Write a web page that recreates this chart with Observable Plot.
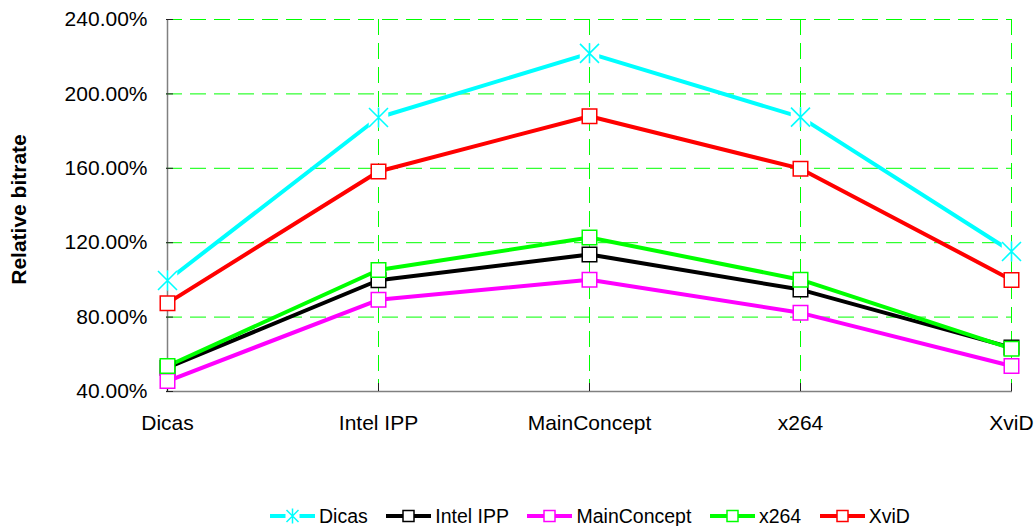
<!DOCTYPE html>
<html>
<head>
<meta charset="utf-8">
<script src="https://cdn.jsdelivr.net/npm/d3@7"></script>
<script src="https://cdn.jsdelivr.net/npm/@observablehq/plot@0.6"></script>
<style>
  html, body { margin: 0; padding: 0; background: #fff; overflow: hidden; }
  body { width: 1036px; height: 526px; font-family: "Liberation Sans", Arial, sans-serif; }
  #legend { display: flex; align-items: center; height: 36px; margin-top: 8px; padding-left: 270px; font-size: 19.5px; color: #000; }
  .item { display: flex; align-items: center; margin-right: 18.5px; }
  .item svg { margin-right: 4px; display: block; }
</style>
</head>
<body>
<div id="chart"></div>
<div id="legend"></div>
<script>
// Categories (x axis)
const encoders = ["Dicas", "Intel IPP", "MainConcept", "x264", "XviD"];
// Series names (legend)
const seriesNames = ["Dicas", "Intel IPP", "MainConcept", "x264", "XviD"];
// Series values (relative bitrate, %)
const dicasValues = [99.7, 187.3, 221.8, 187.5, 115.3];
const intelValues = [52.8, 99.8, 113.7, 94.8, 63.6];
const mainConceptValues = [45.6, 89.3, 100.1, 82.3, 53.7];
const x264Values = [53.7, 105.3, 122.8, 100.1, 63.0];
const xvidValues = [87.5, 158.3, 188.0, 159.8, 100.0];
// Y tick values
const yTicks = [40, 80, 120, 160, 200, 240];
const colors = ["#00ffff", "#000000", "#ff00ff", "#00ff00", "#ff0000"];

const allValues = [dicasValues, intelValues, mainConceptValues, x264Values, xvidValues];
const rows = [];
seriesNames.forEach((s, si) => {
  encoders.forEach((e, i) => rows.push({series: s, encoder: e, value: allValues[si][i]}));
});
const starRows = rows.filter(d => d.series === "Dicas");
const squareRows = rows.filter(d => d.series !== "Dicas");

const asterisk = {
  draw(ctx, size) {
    const h = Math.sqrt(size / Math.PI);
    const k = h * 0.95;
    ctx.moveTo(0, -h); ctx.lineTo(0, h);
    ctx.moveTo(-k, -k); ctx.lineTo(k, k);
    ctx.moveTo(-k, k); ctx.lineTo(k, -k);
  }
};

const grid = "#00ff00";
const chart = Plot.plot({
  width: 1036,
  height: 490,
  marginLeft: 166,
  marginRight: 24,
  marginTop: 19,
  marginBottom: 99,
  style: {fontFamily: "'Liberation Sans', Arial, sans-serif", fontSize: "21px", background: "#fff", color: "#000", overflow: "visible"},
  x: {type: "point", domain: encoders, padding: 0},
  y: {domain: [40, 240]},
  color: {domain: seriesNames, range: colors},
  marks: [
    Plot.gridY(yTicks.slice(1), {stroke: grid, strokeOpacity: 1, strokeWidth: 1, strokeDasharray: "16,8"}),
    Plot.gridX(encoders.slice(1), {stroke: grid, strokeOpacity: 1, strokeWidth: 1, strokeDasharray: "16,8"}),
    Plot.ruleX([encoders[0]], {stroke: "#808080", strokeWidth: 1.5}),
    Plot.ruleY([yTicks[0]], {stroke: "#808080", strokeWidth: 1.5}),
    Plot.axisY({ticks: yTicks, tickFormat: d => d.toFixed(2) + "%", tickSize: -7, tickPadding: 26, stroke: "#222", fill: "#000", fontSize: 21, label: null}),
    Plot.axisX({tickSize: -8, tickPadding: 32, stroke: "#222", fill: "#000", fontSize: 21, label: null}),
    Plot.line(rows, {x: "encoder", y: "value", z: "series", stroke: "series", strokeWidth: 4, curve: "linear"}),
    Plot.dot(starRows, {x: "encoder", y: "value", symbol: "square", r: 11, fill: "#fff", stroke: null}),
    Plot.dot(squareRows, {x: "encoder", y: "value", symbol: "square", r: 8.2, fill: "#fff", stroke: "series", strokeWidth: 1.5}),
    Plot.dot(starRows, {x: "encoder", y: "value", symbol: asterisk, r: 10, fill: null, stroke: "series", strokeWidth: 1.6}),
    Plot.text(["Relative bitrate"], {text: d => d, frameAnchor: "left", textAnchor: "middle", lineAnchor: "middle", dx: -147, dy: 4, rotate: -90, fontWeight: "bold", fontSize: 21, fill: "#000"})
  ]
});
document.getElementById("chart").appendChild(chart);

// Legend
const legend = document.getElementById("legend");
const ns = "http://www.w3.org/2000/svg";
seriesNames.forEach((name, i) => {
  const item = document.createElement("div");
  item.className = "item";
  const svg = document.createElementNS(ns, "svg");
  svg.setAttribute("width", 45); svg.setAttribute("height", 20);
  const line = document.createElementNS(ns, "line");
  line.setAttribute("x1", 0); line.setAttribute("x2", 45); line.setAttribute("y1", 10); line.setAttribute("y2", 10);
  line.setAttribute("stroke", colors[i]); line.setAttribute("stroke-width", 4);
  svg.appendChild(line);
  if (i === 0) {
    const bg = document.createElementNS(ns, "rect");
    bg.setAttribute("x", 15.5); bg.setAttribute("y", 2); bg.setAttribute("width", 14); bg.setAttribute("height", 16); bg.setAttribute("fill", "#fff");
    svg.appendChild(bg);
    const p = document.createElementNS(ns, "path");
    p.setAttribute("d", "M22.5,2.5V17.5M16.5,4L28.5,16M16.5,16L28.5,4");
    p.setAttribute("stroke", colors[i]); p.setAttribute("stroke-width", 1.5); p.setAttribute("fill", "none");
    svg.appendChild(p);
  } else {
    const r = document.createElementNS(ns, "rect");
    r.setAttribute("x", 17); r.setAttribute("y", 4.5); r.setAttribute("width", 11); r.setAttribute("height", 11);
    r.setAttribute("fill", "#fff"); r.setAttribute("stroke", colors[i]); r.setAttribute("stroke-width", 1.5);
    svg.appendChild(r);
  }
  item.appendChild(svg);
  const t = document.createElement("span");
  t.textContent = name;
  item.appendChild(t);
  legend.appendChild(item);
});
</script>
</body>
</html>
